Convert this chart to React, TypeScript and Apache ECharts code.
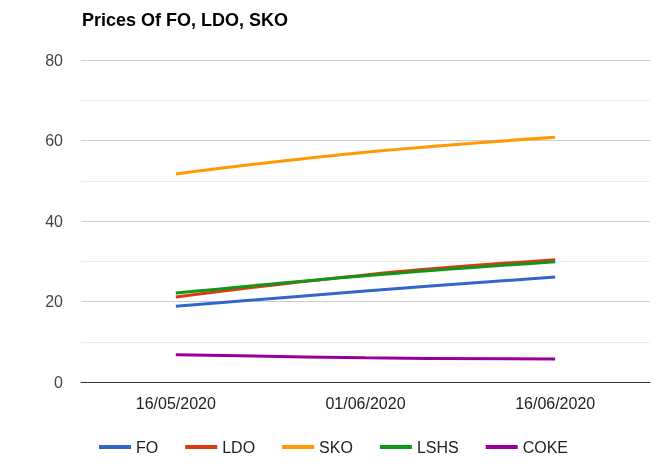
import React, { useEffect, useRef } from "react";
import * as echarts from "echarts";

const categories = ["16/05/2020", "01/06/2020", "16/06/2020"];
const seriesNames = ["FO", "LDO", "SKO", "LSHS", "COKE"];
const foValues = [18.8, 22.6, 26.1];
const ldoValues = [21.1, 26.6, 30.4];
const skoValues = [51.7, 57.1, 60.8];
const lshsValues = [22.1, 26.4, 29.9];
const cokeValues = [6.8, 6.0, 5.7];
const yTicks = [0, 20, 40, 60, 80];
const colors = ["#3366cc", "#dc3912", "#ff9900", "#109618", "#990099"];

export default function App() {
  const ref = useRef<HTMLDivElement>(null);
  useEffect(() => {
    if (!ref.current) return;
    const chart = echarts.init(ref.current, undefined, { renderer: "svg" });
    const all = [foValues, ldoValues, skoValues, lshsValues, cokeValues];
    const font = "Arial, 'Liberation Sans', sans-serif";
    chart.setOption({
      animation: false,
      color: colors,
      title: {
        text: "Prices Of FO, LDO, SKO",
        left: 82,
        top: 11,
        padding: 0,
        textStyle: { fontFamily: font, fontSize: 18, fontWeight: "bold", color: "#000" },
      },
      legend: {
        left: 99,
        top: 439,
        padding: 0,
        itemWidth: 32,
        itemHeight: 4,
        itemGap: 27,
        icon: "rect",
        textStyle: { fontFamily: font, fontSize: 16, color: "#222" },
        data: seriesNames,
      },
      grid: { left: 81, right: 13, top: 60, bottom: 94, containLabel: false },
      xAxis: {
        type: "category",
        data: categories,
        boundaryGap: true,
        axisTick: { show: false },
        axisLine: { show: true, lineStyle: { color: "#333", width: 1 } },
        axisLabel: { margin: 13, fontFamily: font, fontSize: 16, color: "#222" },
      },
      yAxis: {
        type: "value",
        min: yTicks[0],
        max: yTicks[yTicks.length - 1],
        interval: 20,
        axisLine: { show: false },
        axisTick: { show: false },
        axisLabel: { margin: 18, fontFamily: font, fontSize: 16, color: "#444" },
        splitLine: { lineStyle: { color: "#cccccc", width: 1 } },
        minorTick: { show: false, splitNumber: 2 },
        minorSplitLine: { show: true, lineStyle: { color: "#ebebeb", width: 1 } },
      },
      series: seriesNames.map((name, i) => ({
        name,
        type: "line",
        data: all[i],
        smooth: 0.4,
        symbol: "none",
        lineStyle: { width: 3, color: colors[i] },
        itemStyle: { color: colors[i] },
      })),
    });
    return () => chart.dispose();
  }, []);
  return (
    <div
      ref={ref}
      style={{ position: "fixed", left: 0, top: 0, width: 663, height: 476 }}
    />
  );
}
